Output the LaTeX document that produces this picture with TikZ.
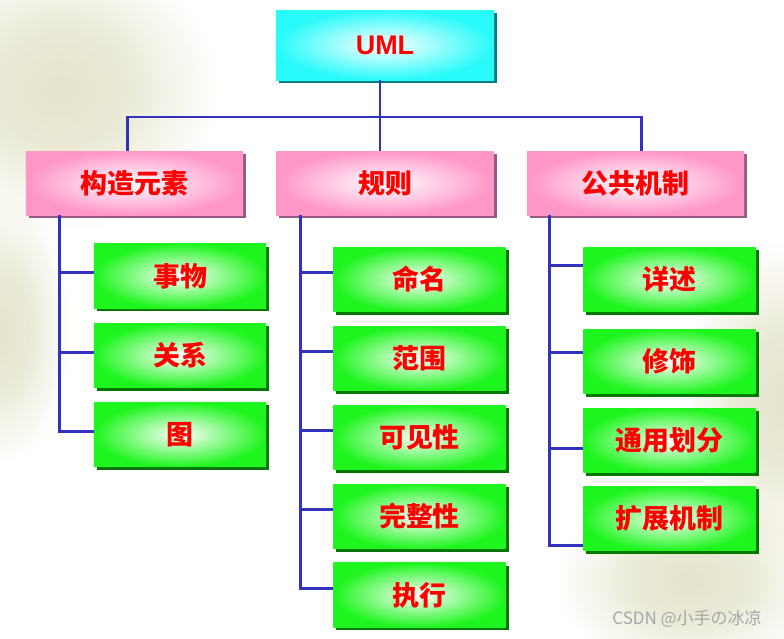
\documentclass[tikz,border=0pt]{standalone}
\usepackage{fontspec}
\setmainfont{Liberation Sans}
\newfontfamily\cjk{Noto Sans CJK SC}
\usetikzlibrary{shadows}
\definecolor{UmlCyan}{RGB}{40,250,250}
\definecolor{CyanShade}{RGB}{0,125,130}
\definecolor{CatPink}{RGB}{255,150,200}
\definecolor{PinkShade}{RGB}{150,90,130}
\definecolor{LeafGreen}{RGB}{30,245,30}
\definecolor{GreenShade}{RGB}{0,120,0}
\definecolor{LinkBlue}{RGB}{50,50,190}
\definecolor{Beige}{RGB}{228,228,204}
\pgfdeclareradialshading{blob}{\pgfpoint{0bp}{0bp}}{color(0bp)=(Beige);
  color(8bp)=(Beige!80!white); color(20bp)=(white); color(50bp)=(white)}
\tikzset{
  box/.style={rectangle,inner sep=0pt,text=red,
    font=\cjk\bfseries\fontsize{23}{26}\selectfont},
  rootbox/.style={box,minimum width=6.54cm,minimum height=2.1cm,
    inner color=white,outer color=UmlCyan,
    general shadow={fill=CyanShade,shadow xshift=0.09cm,shadow yshift=-0.09cm}},
  catbox/.style={box,minimum width=6.51cm,minimum height=1.92cm,
    inner color=white,outer color=CatPink,
    general shadow={fill=PinkShade,shadow xshift=0.09cm,shadow yshift=-0.09cm}},
  leafbox/.style={box,minimum width=5.17cm,minimum height=1.94cm,
    inner color=white,outer color=LeafGreen,
    general shadow={fill=GreenShade,shadow xshift=0.09cm,shadow yshift=-0.09cm}},
  link/.style={draw=LinkBlue,line width=2.4pt},
  wmtext/.style={text=gray!70,font=\cjk\fontsize{14.5}{17}\selectfont},
}

\begin{document}
\begin{tikzpicture}[x=0.03cm,y=-0.03cm]
\useasboundingbox (0,0) rectangle (784,638);
% background
\fill[white] (0,0) rectangle (784,638);
\begin{scope}[blend mode=multiply]
\clip (0,0) rectangle (784,638);
\shade[shading=blob] (60,90) ellipse (200 and 180);
\shade[shading=blob] (0,330) ellipse (90 and 170);
\shade[shading=blob] (784,400) ellipse (130 and 200);
\shade[shading=blob] (690,580) ellipse (170 and 120);
\end{scope}

\node[rootbox] (uml) at (385,45) {\rmfamily UML};
\node[catbox] (k1) at (134.5,183) {构造元素};
\node[catbox] (k2) at (385,183) {规则};
\node[catbox] (k3) at (635.5,183) {公共机制};

\node[leafbox] (a1) at (180,276) {事物};
\node[leafbox] (a2) at (180,355.5) {关系};
\node[leafbox] (a3) at (180,434.5) {图};

\node[leafbox] (b1) at (419.5,279.5) {命名};
\node[leafbox] (b2) at (419.5,358.5) {范围};
\node[leafbox] (b3) at (419.5,437.5) {可见性};
\node[leafbox] (b4) at (419.5,516.5) {完整性};
\node[leafbox] (b5) at (419.5,595) {执行};

\node[leafbox] (c1) at (669.5,279.5) {详述};
\node[leafbox] (c2) at (669.5,361.5) {修饰};
\node[leafbox] (c3) at (669.5,440.5) {通用划分};
\node[leafbox] (c4) at (669.5,518.5) {扩展机制};

\node[wmtext] (wm) at (687,619) {CSDN @小手の冰凉};

% tree links
\coordinate (bus) at (380,117);
\draw[link] ([xshift=-0.15cm]uml.south) -- (bus);
\draw[link] ([xshift=-0.2cm]k1.north) |- (bus) -| ([xshift=0.17cm]k3.north);
\draw[link] (bus) -- ([xshift=-0.15cm]k2.north);

\coordinate (t1) at ([xshift=1.02cm]k1.south west);
\coordinate (t2) at ([xshift=0.72cm]k2.south west);
\coordinate (t3) at ([xshift=0.69cm]k3.south west);

\draw[link] (t1) |- ([yshift=0.1cm]a1.west);
\draw[link] (t1) |- ([yshift=0.1cm]a2.west);
\draw[link] (t1) |- ([yshift=0.1cm]a3.west);

\draw[link] (t2) |- ([yshift=0.2cm]b1.west);
\draw[link] (t2) |- ([yshift=0.2cm]b2.west);
\draw[link] (t2) |- ([yshift=0.2cm]b3.west);
\draw[link] (t2) |- ([yshift=0.2cm]b4.west);
\draw[link] (t2) |- ([yshift=0.2cm]b5.west);

\draw[link] (t3) |- ([yshift=0.42cm]c1.west);
\draw[link] (t3) |- ([yshift=0.28cm]c2.west);
\draw[link] (t3) |- ([yshift=-0.25cm]c3.west);
\draw[link] (t3) |- ([yshift=-0.8cm]c4.west);
\end{tikzpicture}
\end{document}
